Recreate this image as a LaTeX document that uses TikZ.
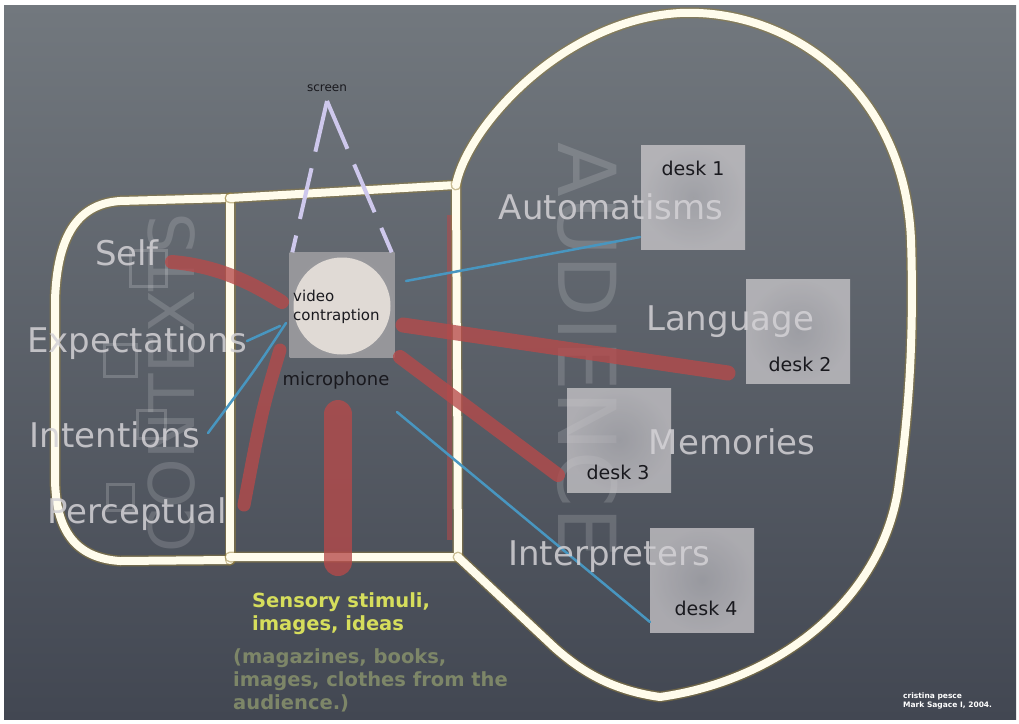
\documentclass[tikz,border=0pt]{standalone}
\usepackage{fontspec}
\setmainfont{DejaVu Sans}
\usepackage{tikz}
\usetikzlibrary{positioning}
\definecolor{boardtop}{RGB}{114,120,126}
\definecolor{boardbot}{RGB}{66,71,82}
\definecolor{chalk}{RGB}{255,252,236}
\definecolor{chalkedge}{RGB}{150,128,60}
\definecolor{brickred}{RGB}{182,74,74}
\definecolor{wireblue}{RGB}{72,150,192}
\definecolor{lilac}{RGB}{206,200,236}
\definecolor{palegray}{RGB}{212,210,214}
\definecolor{deskedge}{RGB}{208,205,208}
\definecolor{deskmid}{RGB}{182,181,186}
\definecolor{lensfill}{RGB}{224,218,213}
\definecolor{camgray}{RGB}{150,150,154}
\definecolor{lemon}{RGB}{214,222,92}
\definecolor{olivegray}{RGB}{125,134,104}
\definecolor{inkdark}{RGB}{25,25,30}
\newcommand{\fsize}[2]{\fontsize{#1}{#2}\selectfont}

\begin{document}
\begin{tikzpicture}[
    x=1pt, y=-1pt,
    chalkglow/.style={draw, line width=11pt, chalkedge, opacity=0.5, line cap=round, line join=round},
    chalkline/.style={line width=8pt, chalk, line cap=round, line join=round, preaction={chalkglow}},
    redstroke/.style={line width=14pt, brickred, opacity=0.78, line cap=round},
    bluewire/.style={line width=2.5pt, wireblue, line cap=round},
    beam/.style={line width=4pt, lilac, dash pattern=on 52pt off 17pt},
    topic/.style={text=palegray, text opacity=0.85, font=\fsize{34}{40}, inner sep=0pt},
    desk/.style={shade, inner color=deskmid, outer color=deskedge, fill opacity=0.72, minimum size=104pt, inner sep=0pt},
    desklabel/.style={text=inkdark, font=\fsize{19}{22}, inner sep=0pt},
    bigword/.style={text=white, text opacity=0.15, font=\fsize{63}{70}, inner sep=0pt},
    ghostbox/.style={draw=white, draw opacity=0.18, line width=3pt, minimum size=32pt, inner sep=0pt},
    camtext/.style={text=inkdark, inner sep=0pt},
    stimuli/.style={text=lemon, font=\bfseries\fsize{19.5}{23}, align=left, inner sep=0pt},
    sources/.style={text=olivegray, font=\bfseries\fsize{19.5}{23}, align=left, inner sep=0pt}
]

\useasboundingbox (0,0) rectangle (1019,723);
\fill[white] (0,0) rectangle (1019,723);
\shade[top color=boardtop, bottom color=boardbot] (4,5) rectangle (1016,719);

% faint words written on the board
\node[bigword, rotate=90] (contexts) at (172,383) {CONTEXTS};
\node[bigword, rotate=-90, font=\fsize{80}{88}] (audience) at (588,350) {AUDIENCE};
\node[ghostbox, minimum size=36pt] (gb1) at (148,268) {};
\node[ghostbox] (gb2) at (120,360) {};
\node[ghostbox, minimum size=28pt] (gb3) at (151,424) {};
\node[ghostbox, minimum size=26pt] (gb4) at (120,497) {};

% chalk outline
\draw[line width=5pt, brickred, opacity=0.55] (449,215) -- (449,540);
\draw[chalkline] (230,198) -- (120,201) .. controls (75,204) and (57,240) .. (55,300)
    -- (55,480) .. controls (56,530) and (75,558) .. (120,561) -- (230,560);
\draw[chalkline] (230,198) -- (230,560);
\draw[chalkline] (230,198) -- (456,185) -- (458,557) -- (230,557);
\draw[chalkline] (456,185) .. controls (466,130) and (560,20) .. (680,13)
    .. controls (790,8) and (905,90) .. (911,240)
    .. controls (915,360) and (905,440) .. (898,490)
    .. controls (880,600) and (780,680) .. (660,697)
    .. controls (610,690) and (580,670) .. (555,648) -- (458,557);

% desks
\node[desk] (desk1) at (693,197) {};
\node[desk] (desk2) at (798,331) {};
\node[desk] (desk3) at (619,440) {};
\node[desk] (desk4) at (702,580) {};
\node[desklabel] (d1lab) at (693,168) {desk 1};
\node[desklabel] (d2lab) at (800,364) {desk 2};
\node[desklabel] (d3lab) at (618,472) {desk 3};
\node[desklabel] (d4lab) at (706,608) {desk 4};

% camera
\node[shade, inner color=camgray!80!white, outer color=camgray, minimum size=105pt, inner sep=0pt] (video) at (342,305) {};
\node[circle, fill=lensfill, minimum size=97pt, inner sep=0pt] (lens) at (342,306) {};
\node[camtext, font=\fsize{15}{19}, align=left, anchor=west] (camlabel) at (293,307) {video\\contraption};
\node[camtext, font=\fsize{18}{20}] (mic) at (336,381) {microphone};
\node[camtext, font=\fsize{12}{14}] (screen) at (327,88) {screen};
\coordinate (apex) at (327,101);
\draw[beam] (apex) -- ([xshift=3pt]video.north west);
\draw[beam] (apex) -- ([xshift=-3pt]video.north east);

% red strokes
\coordinate (selfend) at (172,262);
\coordinate (percend) at (244,505);
\coordinate (langend) at (728,373);
\coordinate (memend) at (558,475);
\coordinate (sensend) at (338,562);
\draw[redstroke] (selfend) .. controls (220,266) and (255,285) .. (282,302);
\draw[redstroke, line width=13pt] (280,350) .. controls (262,410) .. (percend);
\draw[redstroke, line width=15pt] (403,325) -- (langend);
\draw[redstroke] (400,357) -- (memend);
\draw[redstroke, line width=28pt] (338,414) -- (sensend);

% blue wires
\coordinate (autoend) at (640,237);
\coordinate (intend) at (208,433);
\coordinate (expend) at (247,341);
\coordinate (interend) at (650,622);
\draw[bluewire] (406,281) -- (autoend);
\draw[bluewire] (286,323) .. controls (255,370) .. (intend);
\draw[bluewire] (280,326) -- (expend);
\draw[bluewire] (397,412) -- (interend);

% topics
\node[topic] (auto) at (611,207) {Automatisms};
\node[topic] (lang) at (730,322) {Language};
\node[topic] (mem) at (732,442) {Memories};
\node[topic] (interp) at (609,557) {Interpreters};
\node[topic] (self) at (127,253) {Self};
\node[topic] (expect) at (137,343) {Expectations};
\node[topic] (intent) at (115,435) {Intentions};
\node[topic] (percep) at (137,514) {Perceptual};

% captions
\node[stimuli, anchor=base west] (sensory) at (252,630) {Sensory stimuli,\\images, ideas};
\node[sources, anchor=base west] (props) at (233,709) {(magazines, books,\\images, clothes from the\\audience.)};
\node[text=white, font=\bfseries\fsize{7.5}{9}, align=left, inner sep=0pt, anchor=base west] (credit) at (903,707) {cristina pesce\\Mark Sagace I, 2004.};

\end{tikzpicture}
\end{document}
